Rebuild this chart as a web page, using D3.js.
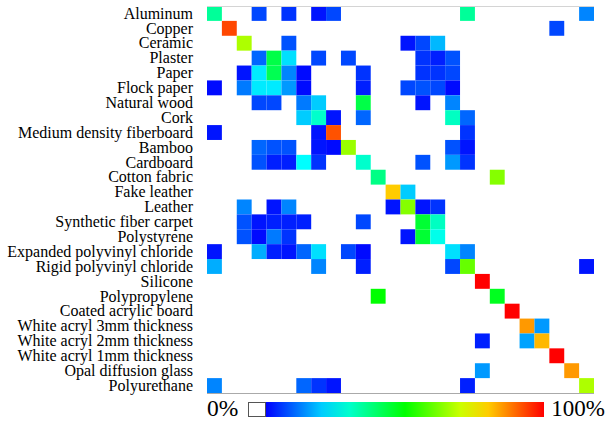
<!DOCTYPE html>
<html>
<head>
<meta charset="utf-8">
<script src="https://cdnjs.cloudflare.com/ajax/libs/d3/7.8.5/d3.min.js"></script>
<style>
  body { margin: 0; background: #fff; }
  text { font-family: "Liberation Serif", "Times New Roman", serif; }
</style>
</head>
<body>
<div id="vis"></div>
<script>
var w = 607;
var h = 425;

// material names (rows = actual, columns = predicted, same order)
var materials = [
  'Aluminum', 'Copper', 'Ceramic', 'Plaster', 'Paper', 'Flock paper',
  'Natural wood', 'Cork', 'Medium density fiberboard', 'Bamboo', 'Cardboard',
  'Cotton fabric', 'Fake leather', 'Leather', 'Synthetic fiber carpet',
  'Polystyrene', 'Expanded polyvinyl chloride', 'Rigid polyvinyl chloride',
  'Silicone', 'Polypropylene', 'Coated acrylic board', 'White acryl 3mm thickness',
  'White acryl 2mm thickness', 'White acryl 1mm thickness', 'Opal diffusion glass',
  'Polyurethane'
];

// non-zero cells: [row, column, percent]
var cells = [
  [0, 0, 35], [0, 3, 7], [0, 5, 5], [0, 7, 2], [0, 8, 7], [0, 17, 35], [0, 25, 13],
  [1, 1, 93], [1, 23, 7],
  [2, 2, 67], [2, 5, 8], [2, 13, 2], [2, 14, 7], [2, 15, 18],
  [3, 3, 10], [3, 4, 43], [3, 5, 22], [3, 7, 7], [3, 9, 7], [3, 14, 5], [3, 15, 3], [3, 16, 8],
  [4, 2, 2], [4, 3, 23], [4, 4, 42], [4, 5, 13], [4, 6, 1], [4, 10, 5], [4, 14, 5], [4, 15, 5], [4, 16, 7],
  [5, 0, 1], [5, 2, 12], [5, 3, 23], [5, 4, 23], [5, 5, 15], [5, 6, 1], [5, 10, 3], [5, 13, 7], [5, 14, 8], [5, 15, 7], [5, 16, 1],
  [6, 3, 7], [6, 4, 7], [6, 6, 12], [6, 7, 20], [6, 10, 43], [6, 14, 2], [6, 16, 13],
  [7, 6, 20], [7, 7, 30], [7, 8, 2], [7, 10, 10], [7, 16, 31], [7, 17, 10],
  [8, 0, 2], [8, 7, 2], [8, 8, 92], [8, 17, 5],
  [9, 3, 10], [9, 4, 8], [9, 5, 8], [9, 7, 2], [9, 8, 1], [9, 9, 65], [9, 16, 8], [9, 17, 2],
  [10, 3, 8], [10, 4, 3], [10, 5, 3], [10, 6, 25], [10, 7, 5], [10, 10, 30], [10, 14, 8], [10, 16, 15], [10, 17, 5],
  [11, 11, 37], [11, 19, 63],
  [12, 12, 80], [12, 13, 20],
  [13, 2, 13], [13, 4, 2], [13, 5, 13], [13, 12, 2], [13, 13, 63], [13, 14, 2], [13, 15, 5],
  [14, 2, 8], [14, 3, 2], [14, 4, 3], [14, 5, 3], [14, 6, 3], [14, 10, 7], [14, 14, 45], [14, 15, 31],
  [15, 2, 8], [15, 3, 1], [15, 4, 12], [15, 5, 5], [15, 13, 2], [15, 14, 45], [15, 15, 27],
  [16, 0, 2], [16, 3, 17], [16, 4, 3], [16, 5, 2], [16, 6, 10], [16, 7, 22], [16, 9, 7], [16, 10, 1], [16, 16, 22], [16, 17, 13],
  [17, 0, 17], [17, 7, 13], [17, 10, 3], [17, 16, 7], [17, 17, 60], [17, 25, 2],
  [18, 18, 100],
  [19, 11, 50], [19, 19, 47],
  [20, 20, 100],
  [21, 21, 85], [21, 22, 15],
  [22, 18, 3], [22, 21, 16], [22, 22, 82],
  [23, 23, 100],
  [24, 18, 15], [24, 24, 85],
  [25, 0, 13], [25, 6, 10], [25, 7, 5], [25, 8, 2], [25, 17, 3], [25, 25, 67]
];

var svg = d3.select('#vis')
  .append('svg')
    .attr('width', w)
    .attr('height', h);

var x = d3.scaleBand()
  .domain(d3.range(materials.length))
  .range([207, 594]);

var y = d3.scaleBand()
  .domain(materials)
  .range([6, 393]);

// hue runs blue -> cyan -> green -> yellow -> red
var color = function(p) {
  return d3.hsl(240 * (1 - p / 100), 1, 0.5).toString();
};

svg.append('g')
  .selectAll('rect')
  .data(cells)
  .enter()
  .append('rect')
    .attr('x', function(d) { return x(d[1]); })
    .attr('y', function(d) { return y(materials[d[0]]); })
    .attr('width', x.bandwidth())
    .attr('height', y.bandwidth())
    .style('fill', function(d) { return color(d[2]); });

// frame lines top and bottom
svg.append('line')
  .attr('x1', 207).attr('x2', 594)
  .attr('y1', 6.5).attr('y2', 6.5)
  .style('stroke', '#d4d4d4');
svg.append('line')
  .attr('x1', 207).attr('x2', 594)
  .attr('y1', 393.5).attr('y2', 393.5)
  .style('stroke', '#aaaaaa');

// row labels
svg.append('g')
  .selectAll('text')
  .data(materials)
  .enter()
  .append('text')
    .attr('x', 193)
    .attr('y', function(d) { return y(d) + y.bandwidth() / 2; })
    .attr('dy', '0.33em')
    .attr('text-anchor', 'end')
    .style('font-size', '16px')
    .text(function(d) { return d; });

// colour legend
var defs = svg.append('defs');
var grad = defs.append('linearGradient').attr('id', 'jet');
d3.range(0, 101, 10).forEach(function(p) {
  grad.append('stop')
    .attr('offset', p + '%')
    .attr('stop-color', color(p));
});

svg.append('rect')
  .attr('x', 248.5).attr('y', 402.5)
  .attr('width', 17).attr('height', 14)
  .style('fill', '#fff')
  .style('stroke', '#555');
svg.append('rect')
  .attr('x', 266).attr('y', 402)
  .attr('width', 278).attr('height', 15)
  .style('fill', 'url(#jet)');

svg.append('text')
  .attr('x', 207).attr('y', 416)
  .style('font-size', '23.5px')
  .text('0%');
svg.append('text')
  .attr('x', 605).attr('y', 416)
  .attr('text-anchor', 'end')
  .style('font-size', '23px')
  .text('100%');
</script>
</body>
</html>
